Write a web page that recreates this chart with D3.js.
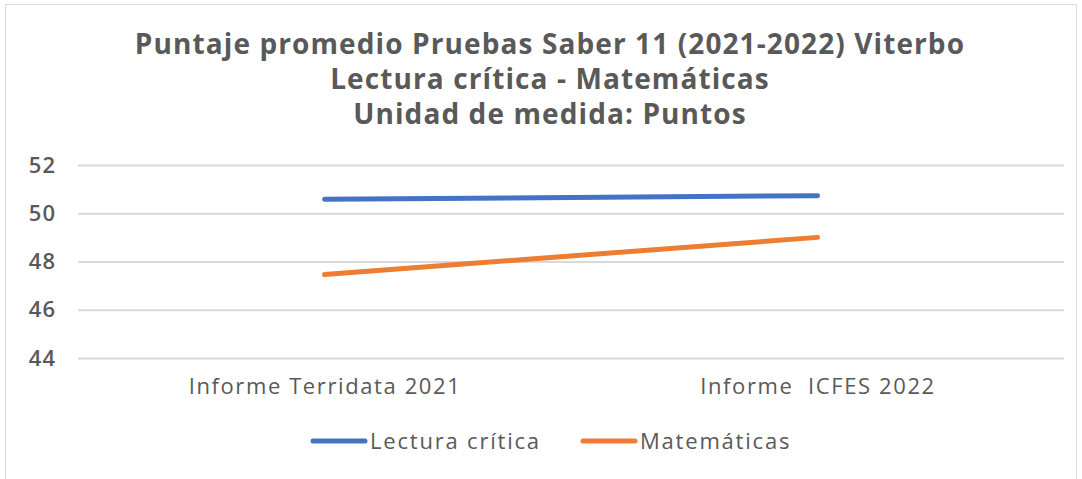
<!DOCTYPE html>
<html>
<head>
<meta charset="utf-8">
<script src="https://cdn.jsdelivr.net/npm/d3@7"></script>
<style>
  body { margin: 0; background: #fff; }
  text { font-family: 'Open Sans', sans-serif; fill: #595959; white-space: pre; }
</style>
</head>
<body>
<div id="chart-area"></div>
<script>
const categories = ['Informe Terridata 2021', 'Informe  ICFES 2022'];
const lectura = [50.58, 50.73];
const matematicas = [47.46, 49.0];
const yTicks = [44, 46, 48, 50, 52];
const titleLines = ['Puntaje promedio Pruebas Saber 11 (2021-2022) Viterbo', 'Lectura crítica - Matemáticas', 'Unidad de medida: Puntos'];
const series = [
  { name: 'Lectura crítica', values: lectura, color: '#4472C4' },
  { name: 'Matemáticas', values: matematicas, color: '#ED7D31' }
];

const chartSize = { width: 1082, height: 479 };
const margin = { left: 78, right: 18, top: 165, bottom: 121 };
const width = chartSize.width - margin.left - margin.right;
const height = chartSize.height - margin.top - margin.bottom;

const svg = d3.select('#chart-area').append('svg')
  .attr('width', chartSize.width)
  .attr('height', chartSize.height);

svg.append('rect')
  .attr('x', 5.5).attr('y', 4.5)
  .attr('width', 1071).attr('height', 490)
  .attr('fill', 'none').attr('stroke', '#d9d9d9');

svg.selectAll('.title').data(titleLines).enter()
  .append('text')
  .attr('class', 'title')
  .attr('x', 550)
  .attr('y', (d, i) => 54 + i * 35)
  .attr('text-anchor', 'middle')
  .attr('font-size', 28)
  .attr('font-weight', 'bold')
  .attr('letter-spacing', 1.1)
  .text(d => d);

const g = svg.append('g').attr('transform', `translate(${margin.left},${margin.top})`);

const x = d3.scalePoint().domain(categories).range([0, width]).padding(0.5);
const y = d3.scaleLinear().domain([44, 52]).range([height, 0]);

const yAxis = g.append('g').call(d3.axisLeft(y).tickValues(yTicks).tickSize(-width).tickPadding(22));
yAxis.select('.domain').remove();
yAxis.selectAll('.tick line').attr('stroke', '#d9d9d9').attr('stroke-width', 2);
yAxis.selectAll('.tick text')
  .attr('font-size', 22).attr('font-weight', 600).attr('letter-spacing', 1)
  .attr('font-family', "'Open Sans', sans-serif").attr('fill', '#595959');

const xAxis = g.append('g').attr('transform', `translate(0,${height})`)
  .call(d3.axisBottom(x).tickSize(0).tickPadding(20));
xAxis.select('.domain').remove();
xAxis.selectAll('.tick text')
  .attr('font-size', 22).attr('letter-spacing', 1.6)
  .attr('font-family', "'Open Sans', sans-serif").attr('fill', '#595959');

const line = d3.line().x((v, i) => x(categories[i])).y(v => y(v));
g.selectAll('.series').data(series).enter()
  .append('path')
  .attr('d', s => line(s.values))
  .attr('fill', 'none')
  .attr('stroke', s => s.color)
  .attr('stroke-width', 5)
  .attr('stroke-linecap', 'round');

const legendX = [311, 581];
const legend = svg.selectAll('.legend').data(series).enter()
  .append('g')
  .attr('transform', (s, i) => `translate(${legendX[i]},441)`);
legend.append('line')
  .attr('x1', 2).attr('x2', 54)
  .attr('stroke', s => s.color).attr('stroke-width', 5).attr('stroke-linecap', 'round');
legend.append('text')
  .attr('x', 59).attr('dy', '0.35em')
  .attr('font-size', 22).attr('letter-spacing', 1.8)
  .text(s => s.name);
</script>
</body>
</html>
